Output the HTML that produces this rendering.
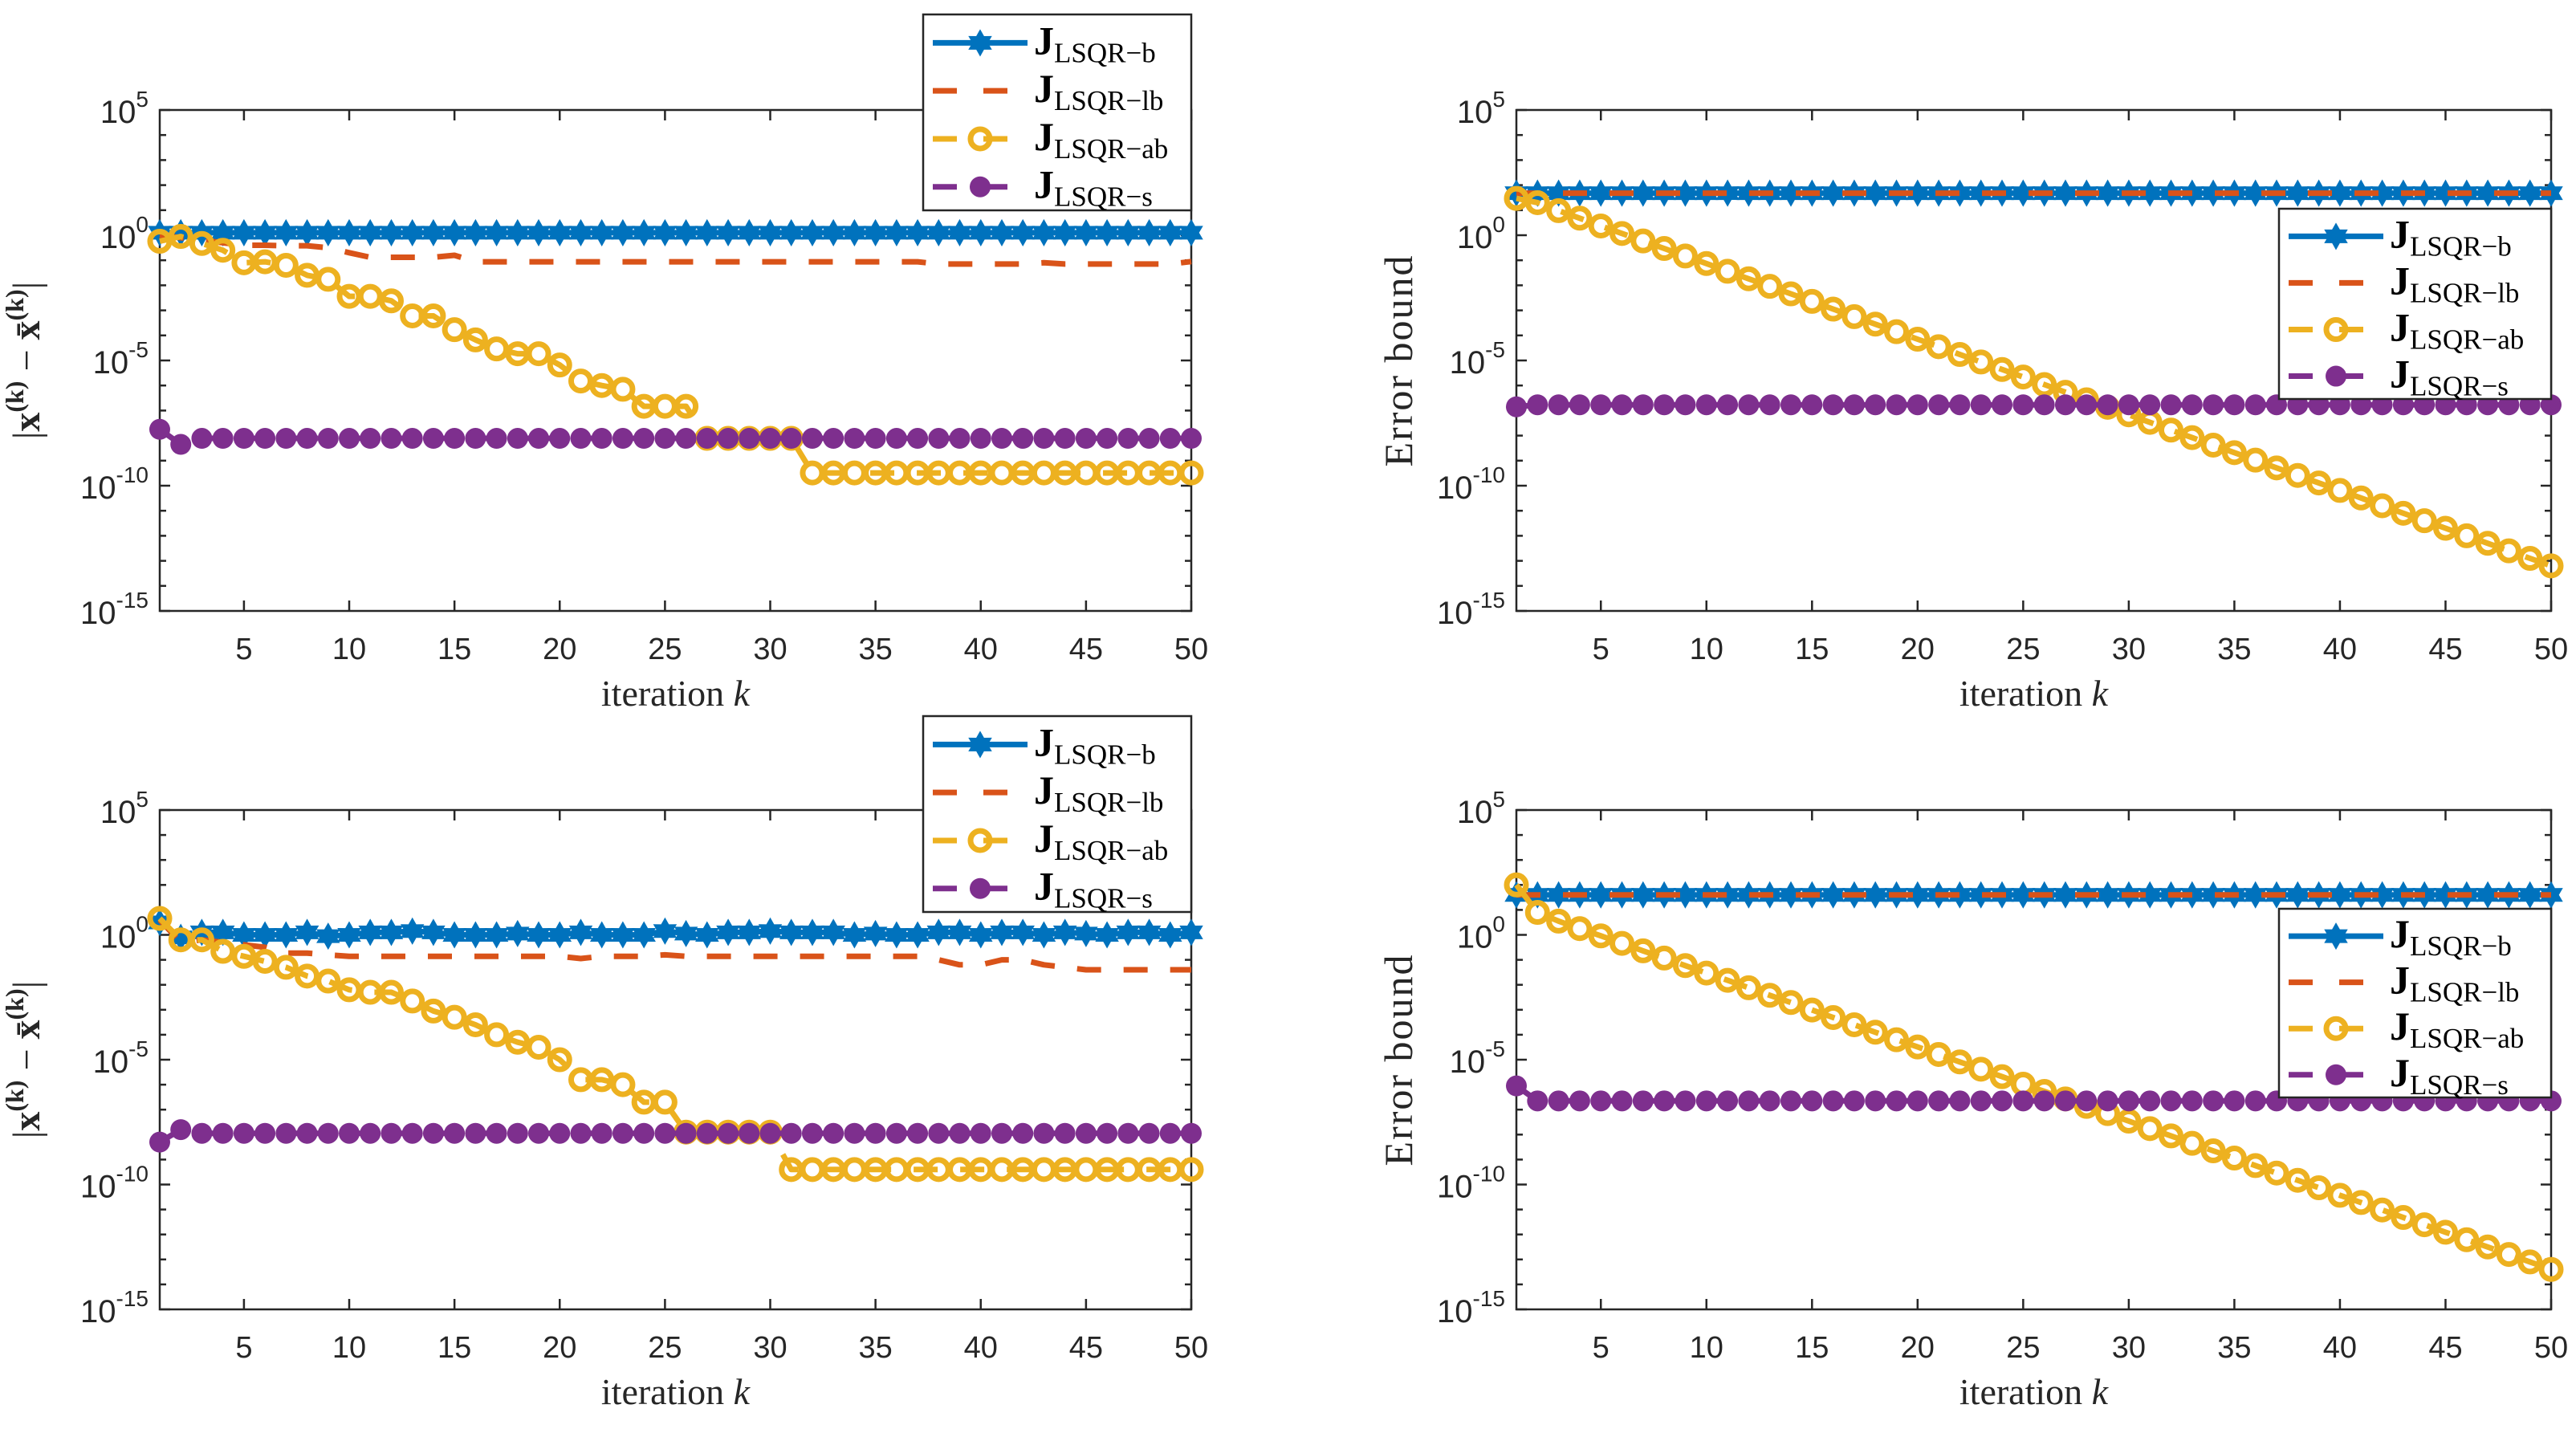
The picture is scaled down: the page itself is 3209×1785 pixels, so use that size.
<!DOCTYPE html>
<html><head><meta charset="utf-8"><style>
html,body{margin:0;padding:0;background:#fff;}
svg{display:block;}
</style></head><body>
<svg id="fig" width="3209" height="1785" viewBox="0 0 3209 1785" xmlns="http://www.w3.org/2000/svg"></svg>
<script>
// ---- data (log10 values), k = 1..50 ----
const iterK = [1,2,3,4,5,6,7,8,9,10,11,12,13,14,15,16,17,18,19,20,21,22,23,24,25,26,27,28,29,30,31,32,33,34,35,36,37,38,39,40,41,42,43,44,45,46,47,48,49,50];
const xTickVals = [5,10,15,20,25,30,35,40,45,50];
const yTickExps = [5,0,-5,-10,-15];
const seriesLabels = ["LSQR\u2212b","LSQR\u2212lb","LSQR\u2212ab","LSQR\u2212s"];

// top-left panel
const p1B  = [0.1,0.1,0.1,0.1,0.1,0.1,0.1,0.1,0.1,0.1,0.1,0.1,0.1,0.1,0.1,0.1,0.1,0.1,0.1,0.1,0.1,0.1,0.1,0.1,0.1,0.1,0.1,0.1,0.1,0.1,0.1,0.1,0.1,0.1,0.1,0.1,0.1,0.1,0.1,0.1,0.1,0.1,0.1,0.1,0.1,0.1,0.1,0.1,0.1,0.1];
const p1LB = [0,-0.1,-0.2,-0.3,-0.4,-0.4,-0.42,-0.42,-0.5,-0.7,-0.88,-0.88,-0.88,-0.88,-0.8,-1.06,-1.06,-1.06,-1.06,-1.06,-1.06,-1.06,-1.06,-1.06,-1.06,-1.06,-1.06,-1.06,-1.06,-1.06,-1.06,-1.06,-1.06,-1.06,-1.06,-1.06,-1.06,-1.15,-1.15,-1.15,-1.15,-1.15,-1.1,-1.15,-1.15,-1.15,-1.15,-1.15,-1.15,-1.05];
const p1AB = [-0.24,-0.05,-0.33,-0.6,-1.1,-1.06,-1.2,-1.6,-1.76,-2.44,-2.44,-2.62,-3.22,-3.22,-3.77,-4.18,-4.54,-4.73,-4.73,-5.18,-5.82,-6.0,-6.15,-6.83,-6.83,-6.83,-8.11,-8.11,-8.11,-8.11,-8.11,-9.49,-9.49,-9.49,-9.49,-9.49,-9.49,-9.49,-9.49,-9.49,-9.49,-9.49,-9.49,-9.49,-9.49,-9.49,-9.49,-9.49,-9.49,-9.49];
const p1S  = [-7.75,-8.35,-8.11,-8.11,-8.11,-8.11,-8.11,-8.11,-8.11,-8.11,-8.11,-8.11,-8.11,-8.11,-8.11,-8.11,-8.11,-8.11,-8.11,-8.11,-8.11,-8.11,-8.11,-8.11,-8.11,-8.11,-8.11,-8.11,-8.11,-8.11,-8.11,-8.11,-8.11,-8.11,-8.11,-8.11,-8.11,-8.11,-8.11,-8.11,-8.11,-8.11,-8.11,-8.11,-8.11,-8.11,-8.11,-8.11,-8.11,-8.11];

// top-right panel
const p2B  = [1.68,1.68,1.68,1.68,1.68,1.68,1.68,1.68,1.68,1.68,1.68,1.68,1.68,1.68,1.68,1.68,1.68,1.68,1.68,1.68,1.68,1.68,1.68,1.68,1.68,1.68,1.68,1.68,1.68,1.68,1.68,1.68,1.68,1.68,1.68,1.68,1.68,1.68,1.68,1.68,1.68,1.68,1.68,1.68,1.68,1.68,1.68,1.68,1.68,1.68];
const p2LB = [1.68,1.68,1.68,1.68,1.68,1.68,1.68,1.68,1.68,1.68,1.68,1.68,1.68,1.68,1.68,1.68,1.68,1.68,1.68,1.68,1.68,1.68,1.68,1.68,1.68,1.68,1.68,1.68,1.68,1.68,1.68,1.68,1.68,1.68,1.68,1.68,1.68,1.68,1.68,1.68,1.68,1.68,1.68,1.68,1.68,1.68,1.68,1.68,1.68,1.68];
const p2AB = [1.47,1.3,0.98,0.68,0.37,0.07,-0.23,-0.53,-0.83,-1.13,-1.44,-1.74,-2.04,-2.34,-2.64,-2.95,-3.25,-3.55,-3.85,-4.15,-4.45,-4.76,-5.06,-5.36,-5.66,-5.96,-6.27,-6.57,-6.87,-7.17,-7.47,-7.78,-8.08,-8.38,-8.68,-8.98,-9.29,-9.59,-9.89,-10.19,-10.49,-10.8,-11.1,-11.4,-11.7,-12.0,-12.3,-12.6,-12.9,-13.2];
const p2S  = [-6.85,-6.77,-6.77,-6.77,-6.77,-6.77,-6.77,-6.77,-6.77,-6.77,-6.77,-6.77,-6.77,-6.77,-6.77,-6.77,-6.77,-6.77,-6.77,-6.77,-6.77,-6.77,-6.77,-6.77,-6.77,-6.77,-6.77,-6.77,-6.77,-6.77,-6.77,-6.77,-6.77,-6.77,-6.77,-6.77,-6.77,-6.77,-6.77,-6.77,-6.77,-6.77,-6.77,-6.77,-6.77,-6.77,-6.77,-6.77,-6.77,-6.77];

// bottom-left panel
const p3B  = [0.5,-0.1,0.1,0.1,0.0,0.0,0.0,0.1,-0.05,0.0,0.1,0.1,0.15,0.1,0.0,0.0,0.0,0.05,0.0,0.0,0.1,0.0,0.0,0.0,0.15,0.05,0.0,0.1,0.1,0.15,0.1,0.1,0.1,0.0,0.05,0.0,0.0,0.1,0.1,0.0,0.1,0.1,0.0,0.1,0.05,0.0,0.1,0.1,0.0,0.1];
const p3LB = [0.6,-0.3,-0.2,-0.3,-0.4,-0.5,-0.73,-0.73,-0.8,-0.86,-0.86,-0.86,-0.86,-0.86,-0.86,-0.86,-0.86,-0.86,-0.86,-0.86,-0.95,-0.86,-0.86,-0.86,-0.8,-0.86,-0.86,-0.86,-0.86,-0.86,-0.86,-0.86,-0.86,-0.86,-0.86,-0.86,-0.86,-1.0,-1.2,-1.2,-1.0,-1.0,-1.2,-1.3,-1.4,-1.4,-1.4,-1.4,-1.4,-1.4];
const p3AB = [0.66,-0.2,-0.2,-0.66,-0.86,-1.06,-1.3,-1.65,-1.85,-2.2,-2.3,-2.3,-2.65,-3.05,-3.3,-3.6,-4.0,-4.3,-4.5,-5.0,-5.8,-5.8,-6.0,-6.7,-6.7,-7.9,-7.9,-7.9,-7.9,-7.9,-9.4,-9.4,-9.4,-9.4,-9.4,-9.4,-9.4,-9.4,-9.4,-9.4,-9.4,-9.4,-9.4,-9.4,-9.4,-9.4,-9.4,-9.4,-9.4,-9.4];
const p3S  = [-8.3,-7.8,-7.95,-7.95,-7.95,-7.95,-7.95,-7.95,-7.95,-7.95,-7.95,-7.95,-7.95,-7.95,-7.95,-7.95,-7.95,-7.95,-7.95,-7.95,-7.95,-7.95,-7.95,-7.95,-7.95,-7.95,-7.95,-7.95,-7.95,-7.95,-7.95,-7.95,-7.95,-7.95,-7.95,-7.95,-7.95,-7.95,-7.95,-7.95,-7.95,-7.95,-7.95,-7.95,-7.95,-7.95,-7.95,-7.95,-7.95,-7.95];

// bottom-right panel
const p4B  = [1.6,1.6,1.6,1.6,1.6,1.6,1.6,1.6,1.6,1.6,1.6,1.6,1.6,1.6,1.6,1.6,1.6,1.6,1.6,1.6,1.6,1.6,1.6,1.6,1.6,1.6,1.6,1.6,1.6,1.6,1.6,1.6,1.6,1.6,1.6,1.6,1.6,1.6,1.6,1.6,1.6,1.6,1.6,1.6,1.6,1.6,1.6,1.6,1.6,1.6];
const p4LB = [1.6,1.6,1.6,1.6,1.6,1.6,1.6,1.6,1.6,1.6,1.6,1.6,1.6,1.6,1.6,1.6,1.6,1.6,1.6,1.6,1.6,1.6,1.6,1.6,1.6,1.6,1.6,1.6,1.6,1.6,1.6,1.6,1.6,1.6,1.6,1.6,1.6,1.6,1.6,1.6,1.6,1.6,1.6,1.6,1.6,1.6,1.6,1.6,1.6,1.6];
const p4AB = [2.0,0.9,0.55,0.25,-0.04,-0.34,-0.64,-0.93,-1.23,-1.53,-1.82,-2.12,-2.42,-2.71,-3.01,-3.31,-3.6,-3.9,-4.2,-4.49,-4.79,-5.09,-5.38,-5.68,-5.98,-6.27,-6.57,-6.87,-7.16,-7.46,-7.76,-8.05,-8.35,-8.65,-8.94,-9.24,-9.54,-9.83,-10.13,-10.43,-10.72,-11.02,-11.32,-11.61,-11.91,-12.21,-12.5,-12.8,-13.1,-13.4];
const p4S  = [-6.05,-6.65,-6.65,-6.65,-6.65,-6.65,-6.65,-6.65,-6.65,-6.65,-6.65,-6.65,-6.65,-6.65,-6.65,-6.65,-6.65,-6.65,-6.65,-6.65,-6.65,-6.65,-6.65,-6.65,-6.65,-6.65,-6.65,-6.65,-6.65,-6.65,-6.65,-6.65,-6.65,-6.65,-6.65,-6.65,-6.65,-6.65,-6.65,-6.65,-6.65,-6.65,-6.65,-6.65,-6.65,-6.65,-6.65,-6.65,-6.65,-6.65];

const NS = "http://www.w3.org/2000/svg";
const svg = document.getElementById('fig');
const COLORS = ["#0072BD","#D95319","#EDB120","#7E2F8E"];

function mk(tag, attrs, parent){
  const e = document.createElementNS(NS, tag);
  for (const k in attrs) e.setAttribute(k, attrs[k]);
  (parent||svg).appendChild(e);
  return e;
}

const panels = [
  {id:"top-left", L:199,R:1484,T:137,B:761, data:[p1B,p1LB,p1AB,p1S], ylabel:"diff", leg:{x:1150,y:18,w:334,h:244}},
  {id:"top-right", L:1889,R:3178,T:137,B:761, data:[p2B,p2LB,p2AB,p2S], ylabel:"err", leg:{x:2839,y:260,w:339,h:237}},
  {id:"bottom-left", L:199,R:1484,T:1009,B:1631, data:[p3B,p3LB,p3AB,p3S], ylabel:"diff", leg:{x:1150,y:892,w:334,h:244}},
  {id:"bottom-right", L:1889,R:3178,T:1009,B:1631, data:[p4B,p4LB,p4AB,p4S], ylabel:"err", leg:{x:2839,y:1132,w:339,h:235}}
];

function starPts(cx, cy, ro, ri){
  let p = [];
  for (let i=0;i<12;i++){
    const a = Math.PI/2 + i*Math.PI/6;
    const r = i%2===0 ? ro : ri;
    p.push((cx + r*Math.cos(a)).toFixed(1)+","+(cy - r*Math.sin(a)).toFixed(1));
  }
  return p.join(" ");
}

function drawMarker(g, s, x, y){
  if (s===0){
    const m = mk('polygon',{points:starPts(x,y,14,8),fill:COLORS[0],stroke:COLORS[0],'stroke-width':3},g);
    
    
  } else if (s===2){
    const m = mk('circle',{cx:x,cy:y,r:12,fill:'none',stroke:COLORS[2],'stroke-width':7},g);
    
    
  } else if (s===3){
    const m = mk('circle',{cx:x,cy:y,r:13,fill:COLORS[3]},g);
    
    
  }
}

panels.forEach(P=>{
  const g = mk('g',{});
  
  
  const xs = k => P.L + (k-1)/49*(P.R-P.L);
  const ys = e => P.T + (5-e)/20*(P.B-P.T);

  const box = mk('rect',{x:P.L,y:P.T,width:P.R-P.L,height:P.B-P.T,fill:'#fff',stroke:'#262626','stroke-width':2.5},g);
  
  

  const tg = mk('g',{stroke:'#262626','stroke-width':2.5},g);
  
  
  xTickVals.forEach(v=>{
    const x = xs(v);
    mk('line',{x1:x,y1:P.B,x2:x,y2:P.B-13},tg);
    mk('line',{x1:x,y1:P.T,x2:x,y2:P.T+13},tg);
    const t = mk('text',{x:x,y:P.B+60,'text-anchor':'middle','font-family':'Liberation Sans, sans-serif','font-size':38,fill:'#262626'},g);
    t.textContent = v;
    
    
  });
  for (let e=5;e>=-15;e--){
    const y = ys(e);
    const len = (e%5===0)?13:8;
    mk('line',{x1:P.L,y1:y,x2:P.L+len,y2:y},tg);
    mk('line',{x1:P.R,y1:y,x2:P.R-len,y2:y},tg);
  }
  yTickExps.forEach(e=>{
    const y = ys(e);
    const t = mk('text',{x:P.L-14,y:y+16,'text-anchor':'end','font-family':'Liberation Sans, sans-serif','font-size':40,fill:'#262626'},g);
    
    
    const a = mk('tspan',{},t); a.textContent = '10';
    const b = mk('tspan',{dy:-20,'font-size':28},t); b.textContent = String(e);
  });

  const xl = mk('text',{x:(P.L+P.R)/2,y:P.B+118,'text-anchor':'middle','font-family':'Liberation Serif, serif','font-size':46,fill:'#262626'},g);
  
  
  const x1 = mk('tspan',{},xl); x1.textContent='iteration ';
  const x2 = mk('tspan',{'font-style':'italic'},xl); x2.textContent='k';

  const cy = (P.T+P.B)/2;
  if (P.ylabel==='diff'){
    const lx = P.L-150;
    const yl = mk('text',{x:0,y:0,transform:`translate(${lx},${cy}) rotate(-90)`,'text-anchor':'middle','font-family':'Liberation Serif, serif','font-size':48,fill:'#262626'},g);
    
    
    const parts = [['|',{}],['x',{'font-weight':'bold'}],['(k)',{'font-size':32,dy:-20,'font-weight':'bold'}],['  \u2212  ',{dy:20}],['x\u0304',{'font-weight':'bold'}],['(k)',{'font-size':32,dy:-20,'font-weight':'bold'}],['|',{dy:20}]];
    parts.forEach(([s,a])=>{ const tt=mk('tspan',a,yl); tt.textContent=s; });
  } else {
    const lx = P.L-130;
    const yl = mk('text',{x:0,y:0,transform:`translate(${lx},${cy}) rotate(-90)`,'text-anchor':'middle','font-family':'Liberation Serif, serif','font-size':50,'letter-spacing':2,fill:'#262626'},g);
    
    
    yl.textContent = 'Error bound';
  }

  const clipId = 'clip-'+P.id;
  const cp = mk('clipPath',{id:clipId},g);
  mk('rect',{x:P.L-16,y:P.T,width:P.R-P.L+32,height:P.B-P.T},cp);
  const sg = mk('g',{'clip-path':`url(#${clipId})`},g);
  P.data.forEach((arr,s)=>{
    const pts = arr.map((v,i)=>xs(iterK[i]).toFixed(1)+','+ys(v).toFixed(1)).join(' ');
    const ln = mk('polyline',{points:pts,fill:'none',stroke:COLORS[s],'stroke-width':7,'stroke-linejoin':'round'},sg);
    if (s>0) ln.setAttribute('stroke-dasharray','30,28');
    
    
    if (s!==1) arr.forEach((v,i)=>drawMarker(sg,s,xs(iterK[i]),ys(v)));
  });

  const L = P.leg;
  const lg = mk('g',{},g);
  
  
  mk('rect',{x:L.x,y:L.y,width:L.w,height:L.h,fill:'#fff',stroke:'#262626','stroke-width':2.5},lg);
  for (let s=0;s<4;s++){
    const ry = L.y + L.h*(0.145 + s*0.245);
    const e = mk('g',{},lg);
    
    
    const x0 = L.x+12, x1e = L.x+130;
    const ll = mk('line',{x1:x0,y1:ry,x2:x1e,y2:ry,stroke:COLORS[s],'stroke-width':7},e);
    if (s>0) ll.setAttribute('stroke-dasharray','30,33');
    drawMarker(e,s,(x0+x1e)/2,ry);
    const t = mk('text',{x:L.x+138,y:ry+14,'font-family':'Liberation Serif, serif','font-size':50,fill:'#000'},e);
    const j = mk('tspan',{'font-weight':'bold'},t); j.textContent='J';
    const sub = mk('tspan',{'font-size':35,dy:10},t); sub.textContent=seriesLabels[s];
  }
});
</script>
</body></html>
